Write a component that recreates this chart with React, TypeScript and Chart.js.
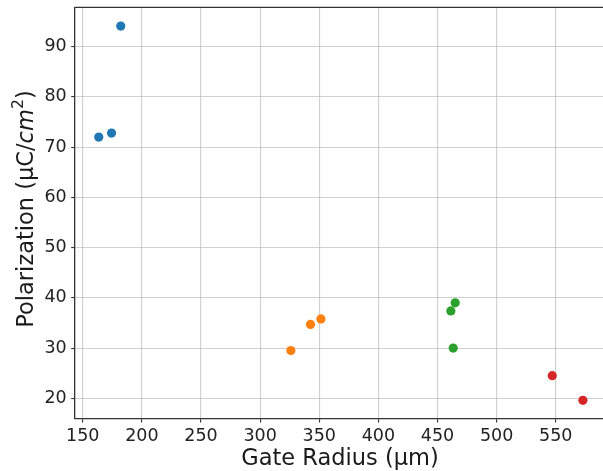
import React, { useEffect, useRef } from "react";
import { Chart, registerables } from "chart.js";

Chart.register(...registerables);

const seriesA = [
  { x: 163.5, y: 72.0 },
  { x: 174.3, y: 72.8 },
  { x: 182.1, y: 94.1 },
];
const seriesB = [
  { x: 326.0, y: 29.5 },
  { x: 342.6, y: 34.7 },
  { x: 351.4, y: 35.8 },
];
const seriesC = [
  { x: 461.3, y: 37.4 },
  { x: 463.3, y: 30.0 },
  { x: 465.0, y: 39.0 },
];
const seriesD = [
  { x: 547.1, y: 24.5 },
  { x: 573.0, y: 19.6 },
];
const seriesColors = ["#1f77b4", "#ff7f0e", "#2ca02c", "#d62728"];
const xTicks = [150, 200, 250, 300, 350, 400, 450, 500, 550];
const yTicks = [20, 30, 40, 50, 60, 70, 80, 90];
const xTitle = "Gate Radius (µm)";
const yTitleParts = ["Polarization (µC/", "cm", "2", ")"];

const FONT = "'DejaVu Sans', sans-serif";
const TITLE_SIZE = 22.5;

const titlePlugin = {
  id: "customTitles",
  afterDraw(chart: any) {
    const ctx = chart.ctx;
    const area = chart.chartArea;
    ctx.save();
    ctx.strokeStyle = "#333";
    ctx.lineWidth = 1.3;
    ctx.beginPath();
    ctx.moveTo(area.left, area.top);
    ctx.lineTo(area.right, area.top);
    ctx.lineTo(area.right, area.bottom);
    ctx.stroke();

    ctx.fillStyle = "#1a1a1a";
    ctx.textBaseline = "alphabetic";
    ctx.font = `${TITLE_SIZE}px ${FONT}`;
    ctx.textAlign = "center";
    ctx.fillText(xTitle, (area.left + area.right) / 2, 465);

    const fonts = [
      `${TITLE_SIZE}px ${FONT}`,
      `italic ${TITLE_SIZE}px ${FONT}`,
      `${TITLE_SIZE * 0.7}px ${FONT}`,
      `${TITLE_SIZE}px ${FONT}`,
    ];
    const rises = [0, 0, 10, 0];
    const widths = yTitleParts.map((t, i) => {
      ctx.font = fonts[i];
      return ctx.measureText(t).width;
    });
    const total = widths.reduce((a, b) => a + b, 0);
    ctx.translate(33, 209);
    ctx.rotate(-Math.PI / 2);
    ctx.textAlign = "left";
    let x = -total / 2;
    yTitleParts.forEach((t, i) => {
      ctx.font = fonts[i];
      ctx.fillText(t, x, -rises[i]);
      x += widths[i];
    });
    ctx.restore();
  },
};

const zeroPad = (s: any) => {
  s.paddingTop = 0;
  s.paddingBottom = 0;
  s.paddingLeft = 0;
  s.paddingRight = 0;
};

export default function App() {
  const ref = useRef<HTMLCanvasElement>(null);
  useEffect(() => {
    if (!ref.current) return;
    const datasets = [seriesA, seriesB, seriesC, seriesD].map((d, i) => ({
      data: d,
      backgroundColor: seriesColors[i],
      borderWidth: 0,
      pointRadius: 4.6,
      pointHoverRadius: 4.6,
    }));
    const tickFont = { family: FONT, size: 17.5 };
    const chart = new Chart(ref.current, {
      type: "scatter",
      data: { datasets },
      options: {
        animation: false,
        responsive: false,
        devicePixelRatio: 1,
        layout: {
          autoPadding: false,
          padding: { top: 7.3, left: 0, right: 0.7, bottom: 0 },
        },
        plugins: { legend: { display: false }, tooltip: { enabled: false } },
        scales: {
          x: {
            type: "linear",
            min: 143.15,
            max: 591.95,
            afterBuildTicks: (s: any) => {
              s.ticks = xTicks.map((v) => ({ value: v }));
            },
            afterFit: (s: any) => {
              s.height = 52;
              zeroPad(s);
            },
            ticks: {
              font: tickFont,
              color: "#222",
              padding: 3,
              maxRotation: 0,
              autoSkip: false,
            },
            grid: {
              color: "rgba(176,176,176,0.6)",
              lineWidth: 1.1,
              tickColor: "#333",
              tickLength: 3.5,
            },
            border: { color: "#333", width: 1.3 },
          },
          y: {
            type: "linear",
            min: 15.88,
            max: 97.84,
            afterBuildTicks: (s: any) => {
              s.ticks = yTicks.map((v) => ({ value: v }));
            },
            afterFit: (s: any) => {
              s.width = 74.7;
              zeroPad(s);
            },
            ticks: {
              font: tickFont,
              color: "#222",
              padding: 4.5,
              autoSkip: false,
            },
            grid: {
              color: "rgba(176,176,176,0.6)",
              lineWidth: 1.1,
              tickColor: "#333",
              tickLength: 3.5,
            },
            border: { color: "#333", width: 1.3 },
          },
        },
      },
      plugins: [titlePlugin],
    });
    return () => chart.destroy();
  }, []);
  return (
    <div
      style={{
        position: "fixed",
        left: 0,
        top: 0,
        width: 603,
        height: 471,
        overflow: "hidden",
        background: "#fff",
      }}
    >
      <canvas ref={ref} width={606} height={471} style={{ display: "block" }} />
    </div>
  );
}
